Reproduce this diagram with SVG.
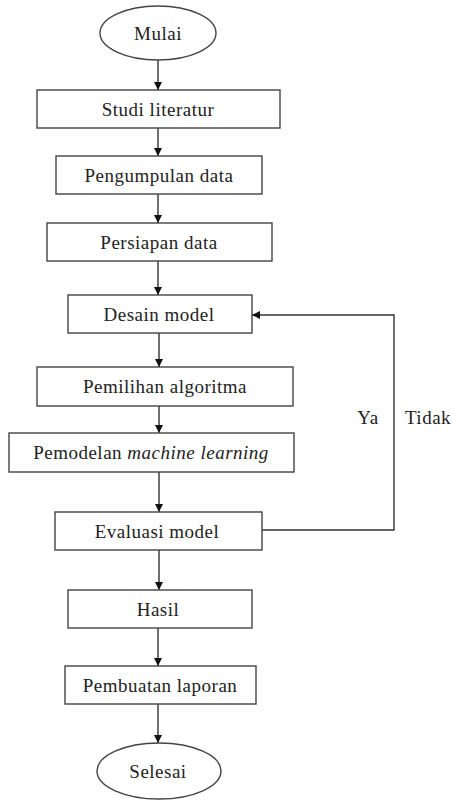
<svg xmlns="http://www.w3.org/2000/svg" width="452" height="801" viewBox="0 0 452 801">
<style>
.n{fill:#fff;stroke:#444;stroke-width:1.4}
.t{font-family:"Liberation Serif","Times New Roman",serif;font-size:19px;letter-spacing:0.5px;fill:#222;text-anchor:middle}
.c{fill:none;stroke:#333;stroke-width:1.4}
</style>
<defs>
<marker id="a" markerWidth="8" markerHeight="8" refX="8" refY="4" orient="auto" markerUnits="userSpaceOnUse">
<path d="M0,0 L8,4 L0,8 z" fill="#111"/>
</marker>
</defs>
<rect width="452" height="801" fill="#fff"/>
<g id="connectors">
<line class="c" x1="158" y1="60" x2="158" y2="90" marker-end="url(#a)"/>
<line class="c" x1="158" y1="128" x2="158" y2="156" marker-end="url(#a)"/>
<line class="c" x1="158" y1="194" x2="158" y2="223" marker-end="url(#a)"/>
<line class="c" x1="158" y1="261" x2="158" y2="295" marker-end="url(#a)"/>
<line class="c" x1="159" y1="333" x2="159" y2="367" marker-end="url(#a)"/>
<line class="c" x1="159" y1="406" x2="159" y2="433" marker-end="url(#a)"/>
<line class="c" x1="159" y1="472" x2="159" y2="512" marker-end="url(#a)"/>
<line class="c" x1="159" y1="550" x2="159" y2="590" marker-end="url(#a)"/>
<line class="c" x1="158" y1="628" x2="158" y2="666" marker-end="url(#a)"/>
<line class="c" x1="158" y1="704" x2="158" y2="743" marker-end="url(#a)"/>
<polyline class="c" points="262,530 394,530 394,315 252,315" marker-end="url(#a)"/>
<text class="t" x="368" y="424">Ya</text>
<text class="t" x="428" y="424">Tidak</text>
</g>
<g id="mulai"><ellipse class="n" cx="158" cy="33" rx="58" ry="27"/><text class="t" x="158" y="40">Mulai</text></g>
<g id="studi"><rect class="n" x="37" y="90" width="243" height="38"/><text class="t" x="158" y="116">Studi literatur</text></g>
<g id="pengumpulan"><rect class="n" x="56" y="156" width="206" height="38"/><text class="t" x="159" y="182">Pengumpulan data</text></g>
<g id="persiapan"><rect class="n" x="47" y="223" width="225" height="38"/><text class="t" x="159" y="249">Persiapan data</text></g>
<g id="desain"><rect class="n" x="68" y="295" width="184" height="38"/><text class="t" x="159" y="321">Desain model</text></g>
<g id="pemilihan"><rect class="n" x="37" y="367" width="256" height="39"/><text class="t" x="165" y="393">Pemilihan algoritma</text></g>
<g id="pemodelan"><rect class="n" x="9" y="433" width="285" height="39"/><text class="t" x="151" y="459">Pemodelan <tspan font-style="italic">machine learning</tspan></text></g>
<g id="evaluasi"><rect class="n" x="55" y="512" width="207" height="38"/><text class="t" x="157" y="538">Evaluasi model</text></g>
<g id="hasil"><rect class="n" x="68" y="590" width="184" height="38"/><text class="t" x="158" y="616">Hasil</text></g>
<g id="laporan"><rect class="n" x="65" y="666" width="191" height="38"/><text class="t" x="160" y="692">Pembuatan laporan</text></g>
<g id="selesai"><ellipse class="n" cx="159" cy="771" rx="62" ry="28"/><text class="t" x="158" y="778">Selesai</text></g>
</svg>
